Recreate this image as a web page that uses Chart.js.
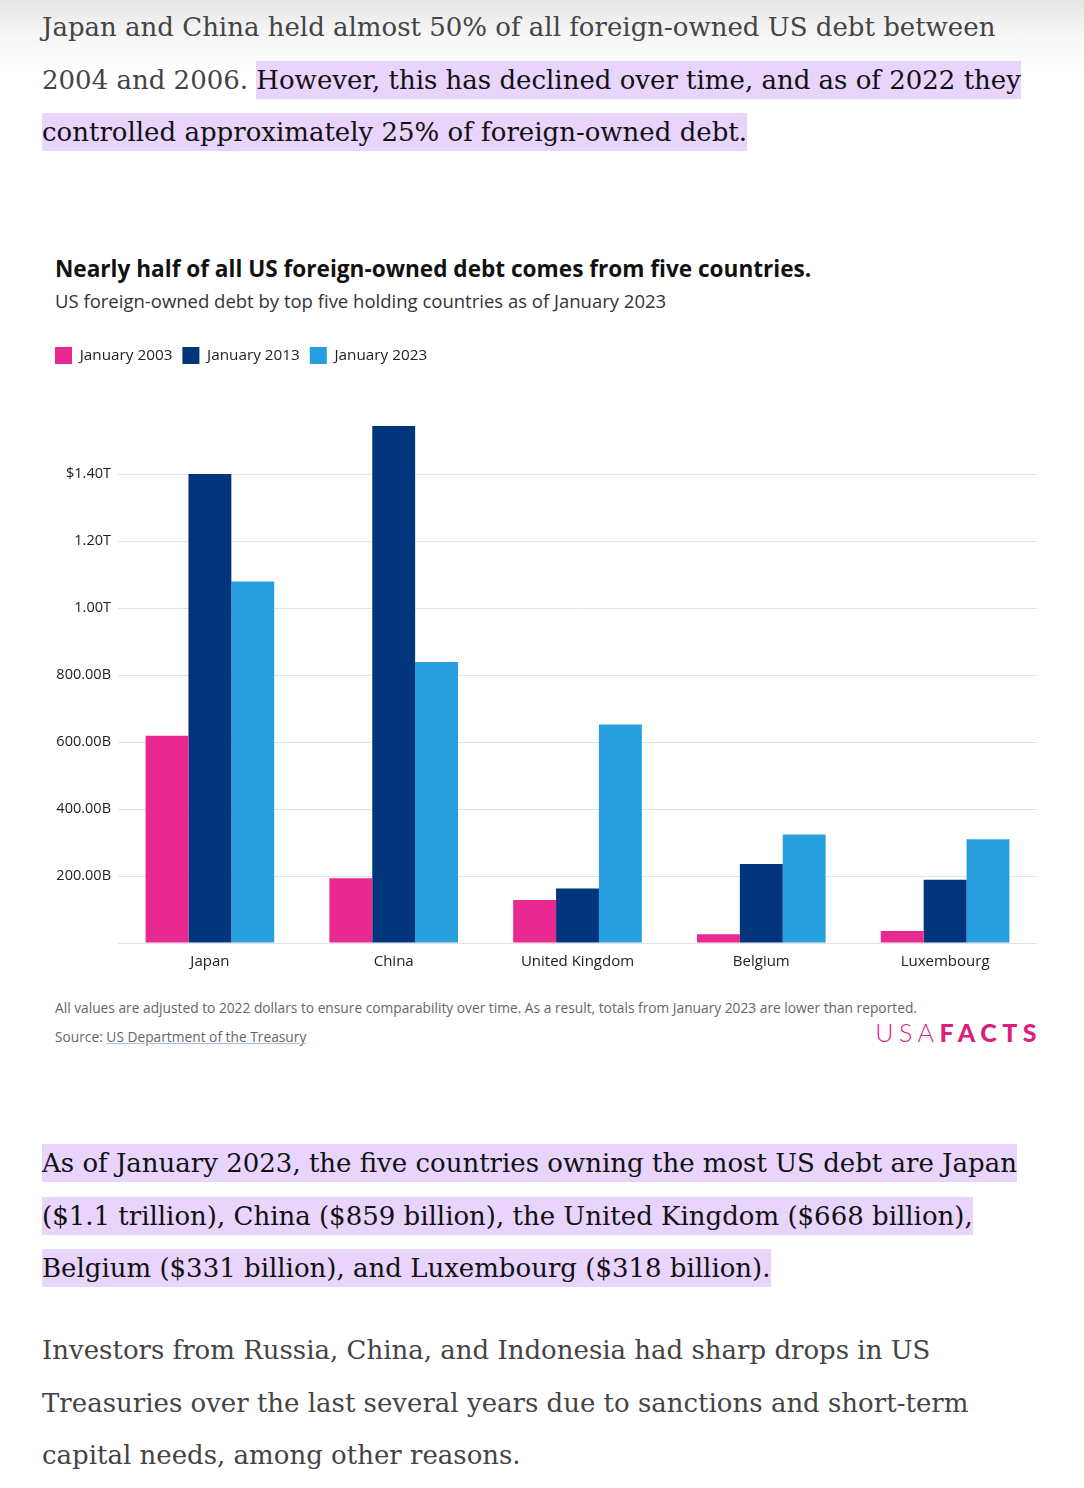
<!DOCTYPE html>
<html>
<head>
<meta charset="utf-8">
<script src="https://cdn.jsdelivr.net/npm/chart.js@4.4.1/dist/chart.umd.min.js"></script>
<style>
  html, body { margin:0; padding:0; }
  body { width:1084px; height:1488px; position:relative; overflow:hidden;
         background: linear-gradient(to bottom, #e6e6e6 0px, #f6f6f6 35px, #ffffff 75px, #ffffff 100%); }
  .para { position:absolute; left:42px; font-family:"DejaVu Serif", serif; font-size:26px;
          line-height:52.5px; color:#444; white-space:nowrap; }
  .hl { background:#e8d4fc; color:#111; padding:4px 0; -webkit-box-decoration-break:clone; box-decoration-break:clone; }
  .ctitle { position:absolute; left:55px; top:253px; font-family:"Open Sans", sans-serif; font-weight:700; font-size:22.6px; color:#111; white-space:nowrap; }
  .csub { position:absolute; left:55px; top:288px; font-family:"Open Sans", sans-serif; font-size:18.5px; color:#333; white-space:nowrap; }
  .note { position:absolute; left:55px; font-family:"Open Sans", sans-serif; font-size:13.75px; color:#666; white-space:nowrap; }
  .note a { color:#666; text-decoration:underline; text-decoration-color:#9cc7e8; }
  .logo { position:absolute; right:42px; top:1017px; font-family:Lato, sans-serif; font-size:25px; color:#dc1c7f; letter-spacing:5.5px; white-space:nowrap; }
  .logo .a { font-weight:300; }
  .logo .b { font-weight:900; }
  #wrap { position:absolute; left:45px; top:337px; width:995px; height:644px; }
</style>
</head>
<body>
<div class="para" style="top:1px;">Japan and China held almost 50% of all foreign-owned US debt between<br>2004 and 2006. <span class="hl">However, this has declined over time, and as of 2022 they</span><br><span class="hl">controlled approximately 25% of foreign-owned debt.</span></div>

<div class="ctitle">Nearly half of all US foreign-owned debt comes from five countries.</div>
<div class="csub">US foreign-owned debt by top five holding countries as of January 2023</div>

<div id="wrap"><canvas id="c"></canvas></div>

<div class="note" style="top:998px;">All values are adjusted to 2022 dollars to ensure comparability over time. As a result, totals from January 2023 are lower than reported.</div>
<div class="note" style="top:1027px;">Source: <a>US Department of the Treasury</a></div>
<div class="logo"><span class="a">USA</span><span class="b">FACTS</span></div>

<div class="para" style="top:1137px;"><span class="hl">As of January 2023, the five countries owning the most US debt are Japan</span><br><span class="hl">($1.1 trillion), China ($859 billion), the United Kingdom ($668 billion),</span><br><span class="hl">Belgium ($331 billion), and Luxembourg ($318 billion).</span></div>

<div class="para" style="top:1324px;">Investors from Russia, China, and Indonesia had sharp drops in US<br>Treasuries over the last several years due to sanctions and short-term<br>capital needs, among other reasons.</div>

<script>
const countries = ['Japan', 'China', 'United Kingdom', 'Belgium', 'Luxembourg'];
const seriesNames = ['January 2003', 'January 2013', 'January 2023'];
// values in billions of dollars
const jan2003 = [619, 193, 128, 26, 36];
const jan2013 = [1400, 1543, 163, 236, 189];
const jan2023 = [1079, 839, 652, 324, 310];
const yTickValues = [200, 400, 600, 800, 1000, 1200, 1400];
const yTickLabels = ['200.00B', '400.00B', '600.00B', '800.00B', '1.00T', '1.20T', '$1.40T'];
const seriesColors = ['#e8298f', '#02357c', '#279fdf'];
const yMax = 1600;

const legendSpacer = {
  id: 'legendSpacer',
  beforeInit(chart) {
    const origFit = chart.legend.fit;
    chart.legend.fit = function () {
      origFit.bind(this)();
      this.height += 33;
    };
  }
};

new Chart(document.getElementById('c'), {
  type: 'bar',
  data: {
    labels: countries,
    datasets: [jan2003, jan2013, jan2023].map((d, i) => ({
      label: seriesNames[i],
      data: d,
      backgroundColor: seriesColors[i],
      borderWidth: 0,
      barPercentage: 1.0,
      categoryPercentage: 0.70
    }))
  },
  options: {
    responsive: true,
    maintainAspectRatio: false,
    animation: false,
    layout: { padding: { left: 0, right: 3, top: 0, bottom: 0 } },
    plugins: {
      legend: {
        position: 'top',
        align: 'start',
        labels: {
          boxWidth: 17, boxHeight: 17, padding: 10,
          color: '#222',
          font: { family: 'Open Sans', size: 15.3 }
        }
      },
      tooltip: { enabled: false }
    },
    scales: {
      x: {
        grid: { display: false, drawTicks: false },
        border: { display: false },
        ticks: { color: '#222', padding: 10, font: { family: 'Open Sans', size: 15 } }
      },
      y: {
        min: 0, max: yMax,
        afterFit(scale) { scale.width = 73; },
        afterBuildTicks(scale) {
          scale.ticks = [0].concat(yTickValues).concat([yMax]).map(v => ({ value: v }));
        },
        grid: {
          drawTicks: false,
          color: ctx => (ctx.tick && ctx.tick.value === yMax) ? 'rgba(0,0,0,0)' : '#e3e3e3',
          lineWidth: 1
        },
        border: { display: false },
        ticks: {
          padding: 7,
          color: '#222',
          font: { family: 'Open Sans', size: 14.5 },
          callback: v => { const i = yTickValues.indexOf(v); return i >= 0 ? yTickLabels[i] : ''; }
        }
      }
    }
  },
  plugins: [legendSpacer]
});
</script>
</body>
</html>
